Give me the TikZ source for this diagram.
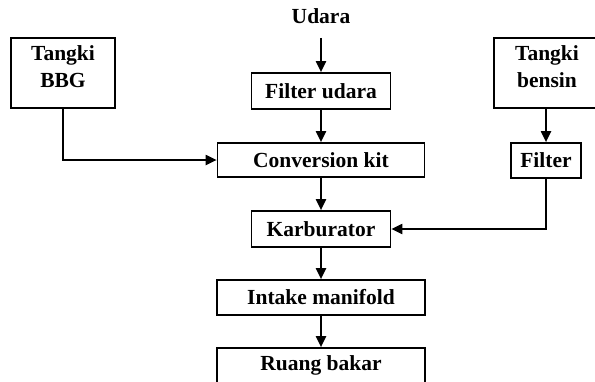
\documentclass[tikz,border=0pt]{standalone}
\usepackage{fontspec}
\setmainfont{Liberation Serif}
\usetikzlibrary{arrows.meta}
\begin{document}
\begin{tikzpicture}[x=1pt,y=-1pt,
  txt/.style={font=\fontsize{21.5}{27}\selectfont\bfseries},
  box/.style={draw, line width=1.7pt, minimum height=35pt, inner sep=0pt, align=center, txt},
  arr/.style={line width=2pt, -{Triangle[length=11pt,width=10pt]}},
  plain/.style={txt, inner sep=0pt, align=center}]
\useasboundingbox (0,0) rectangle (595,381);
\clip (0,0) rectangle (595,381);
\node[plain] (udara) at (321,16) {Udara};
\node[box, minimum width=139pt, minimum height=36pt] (fu) at (321,91) {Filter udara};
\node[box, minimum width=207pt, minimum height=34pt] (conv) at (321,160) {Conversion kit};
\node[box, minimum width=104pt, minimum height=70pt,
  label={[plain, yshift=6pt]center:Tangki\\BBG}] (bbg) at (63,73) {};
\node[box, minimum width=106pt, minimum height=70pt,
  label={[plain, yshift=6pt]center:Tangki\\bensin}] (bensin) at (547,73) {};
\node[box, minimum width=70pt] (filter) at (546,160.5) {Filter};
\node[box, minimum width=139pt, minimum height=36pt] (karb) at (321,229) {Karburator};
\node[box, minimum width=208pt] (intake) at (321,297.5) {Intake manifold};
\node[box, minimum width=208pt] (ruang) at (321,365.5) {Ruang bakar};
\draw[arr, shorten <=14pt] (udara.south) -- (fu.north);
\draw[arr] (fu.south) -- (fu.south |- conv.north);
\draw[arr] (conv.south) -- (conv.south |- karb.north);
\draw[arr] (karb.south) -- (karb.south |- intake.north);
\draw[arr] (intake.south) -- (ruang.north);
\draw[arr] (bbg.south) |- (conv.west);
\draw[arr] (filter.north |- bensin.south) -- (filter.north);
\draw[arr] (filter.south) |- (karb.east);
\end{tikzpicture}
\end{document}
